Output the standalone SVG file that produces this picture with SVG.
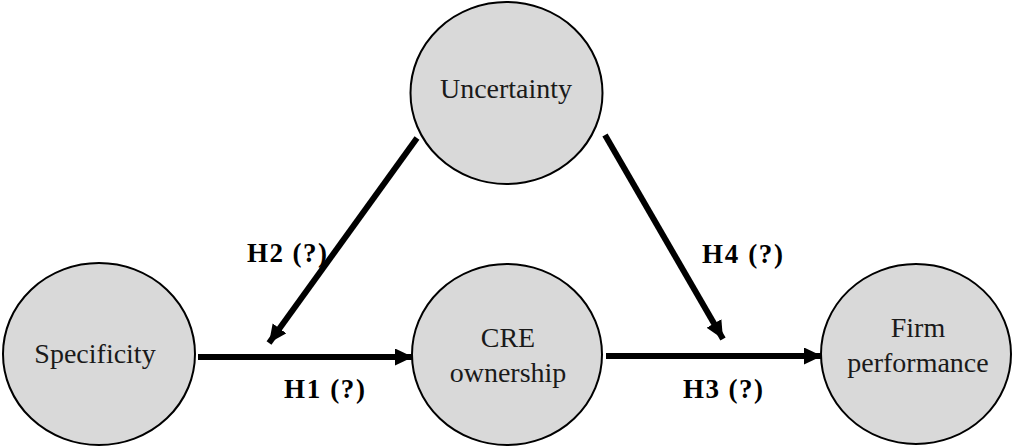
<svg xmlns="http://www.w3.org/2000/svg" width="1012" height="447" viewBox="0 0 1012 447">
  <style>
    .node { fill: #d9d9d9; stroke: #000; stroke-width: 2; }
    .label { font-family: 'Liberation Serif', serif; font-size: 28px; fill: #1a1a1a; text-anchor: middle; }
    .hyp { font-family: 'Liberation Serif', serif; font-size: 27px; font-weight: bold; fill: #000; }
    .link { stroke: #000; stroke-width: 6; fill: none; }
  </style>
  <defs>
    <marker id="arrow" markerUnits="userSpaceOnUse" markerWidth="19" markerHeight="18" refX="18" refY="8.5" orient="auto">
      <path d="M0,0 L18,8.5 L0,17 Z" fill="#000"/>
    </marker>
  </defs>
  <rect width="1012" height="447" fill="#fff"/>

  <g id="connectors">
    <line class="link" x1="198" y1="357" x2="413" y2="357" marker-end="url(#arrow)"/>
    <line class="link" x1="606" y1="356" x2="822" y2="356" marker-end="url(#arrow)"/>
    <line class="link" x1="417" y1="138" x2="269" y2="343" marker-end="url(#arrow)"/>
    <line class="link" x1="605" y1="135" x2="723" y2="339" marker-end="url(#arrow)"/>
    <text class="hyp" x="284" y="398" textLength="81" lengthAdjust="spacing">H1 (?)</text>
    <text class="hyp" x="247" y="262" textLength="80" lengthAdjust="spacing">H2 (?)</text>
    <text class="hyp" x="683" y="398" textLength="80" lengthAdjust="spacing">H3 (?)</text>
    <text class="hyp" x="702" y="263" textLength="81" lengthAdjust="spacing">H4 (?)</text>
  </g>

  <g id="uncertainty">
    <ellipse class="node" cx="506.5" cy="93" rx="96" ry="91"/>
    <text class="label" x="506" y="98">Uncertainty</text>
  </g>
  <g id="specificity">
    <ellipse class="node" cx="99" cy="354" rx="96" ry="91"/>
    <text class="label" x="95" y="363">Specificity</text>
  </g>
  <g id="cre-ownership">
    <ellipse class="node" cx="507" cy="354.5" rx="95" ry="90.5"/>
    <text class="label" x="508" y="347">CRE</text>
    <text class="label" x="508" y="382">ownership</text>
  </g>
  <g id="firm-performance">
    <ellipse class="node" cx="916" cy="354" rx="95" ry="90"/>
    <text class="label" x="918" y="337">Firm</text>
    <text class="label" x="918" y="372">performance</text>
  </g>
</svg>
